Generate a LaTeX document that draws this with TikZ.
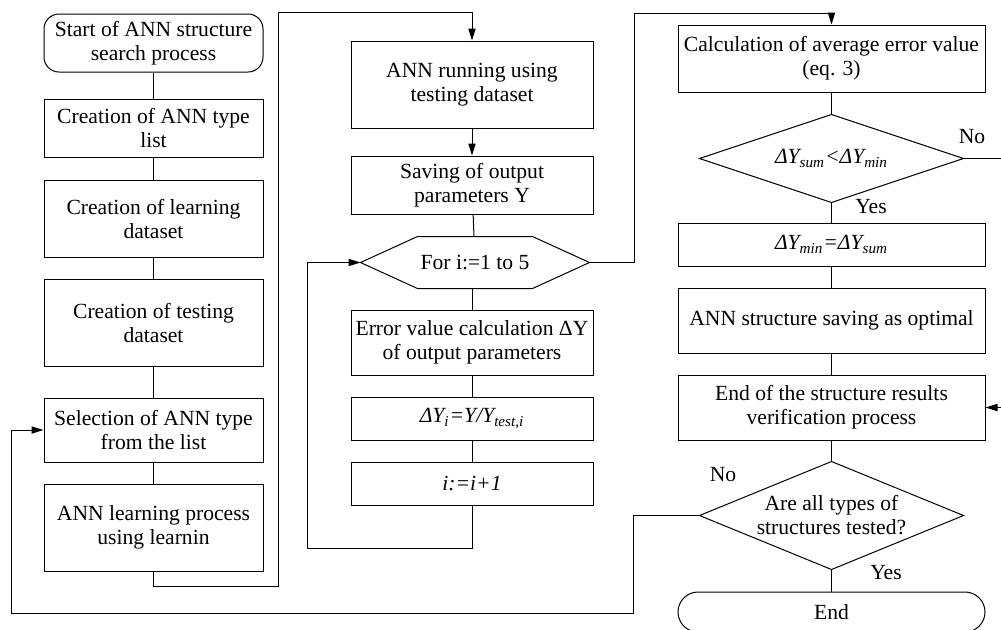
\documentclass[tikz,border=0pt]{standalone}
\usepackage{fontspec}
\setmainfont{Liberation Serif}
\usetikzlibrary{arrows.meta,calc}
\tikzset{
	box/.style={draw, align=center, inner sep=0pt},
	lbox/.style={box, minimum width=109.5pt, minimum height=#1},
	mbox/.style={box, minimum width=121pt, minimum height=#1},
	rbox/.style={box, minimum width=153.5pt, minimum height=#1},
	term/.style={box, rounded corners=#1},
	shell/.style={align=center, inner sep=0pt},
	arr/.style={-{Triangle[length=6pt,width=3.6pt]}}
}

\begin{document}
\begin{tikzpicture}[x=0.5pt, y=-0.5pt, line width=0.5pt, font=\fontsize{10.8}{12}\selectfont]
        \useasboundingbox (0,0) rectangle (1001,629);
        \clip (0,0) rectangle (1001,629);
        % left column
        \node[term=7.5pt, minimum width=109.5pt, minimum height=29pt] (start) at (153.5,43) {Start of ANN structure\\search process};
        \node[lbox=29pt] (type_list) at (153.5,128) {Creation of ANN type\\list};
        \node[lbox=38.5pt] (learn_set) at (153.5,218.5) {Creation of learning\\dataset};
        \node[lbox=43.5pt] (test_set) at (153.5,322.5) {Creation of testing\\dataset};
        \node[lbox=32pt] (select) at (153.5,430) {Selection of ANN type\\from the list};
        \node[lbox=43.5pt] (learn_proc) at (153.5,527.5) {ANN learning process\\using learnin};
        \draw (start) -- (type_list);
        \draw (type_list) -- (learn_set);
        \draw (learn_set) -- (test_set);
        \draw (test_set) -- (select);
        \draw (select) -- (learn_proc);
        % middle column
        \node[mbox=43.5pt] (run) at (472,84.5) {ANN running using\\testing dataset};
        \node[mbox=29pt] (save_y) at (472,185) {Saving of output\\parameters Y};
        \node[shell, minimum width=114pt, minimum height=25.5pt] (loop) at (475,262.5) {For i:=1 to 5};
        \draw (loop.west) -- ($(loop.north west)+(57,0)$) -- ($(loop.north east)+(-57,0)$) -- (loop.east)
            -- ($(loop.south east)+(-57,0)$) -- ($(loop.south west)+(57,0)$) -- cycle;
        \node[mbox=32.5pt] (err_calc) at (472,342.5) {Error value calculation ΔY\\of output parameters};
        \node[mbox=21.5pt] (delta_y) at (472,418.5) {\textit{ΔY\textsubscript{i}=Y/Y\textsubscript{test,i}}};
        \node[mbox=21.5pt] (incr) at (472,483.5) {\textit{i:=i+1}};
        \draw[arr] (run) -- (save_y);
        \draw (save_y) -- (loop);
        \draw (loop.south -| err_calc.north) -- (err_calc);
        \draw (err_calc) -- (delta_y);
        \draw (delta_y) -- (incr);
        % right column
        \node[rbox=33.5pt] (avg) at (831.5,58.5) {Calculation of average error value\\(eq. 3)};
        \node[shell, minimum width=131.5pt, minimum height=43.5pt] (cmp) at (831.5,158.5) {\textit{ΔY\textsubscript{sum}<ΔY\textsubscript{min}}};
        \draw (cmp.west) -- (cmp.north) -- (cmp.east) -- (cmp.south) -- cycle;
        \node[rbox=21.5pt] (set_min) at (831.5,244.5) {\textit{ΔY\textsubscript{min}=ΔY\textsubscript{sum}}};
        \node[rbox=32.5pt] (save_opt) at (831.5,320.5) {ANN structure saving as optimal};
        \node[rbox=32.5pt] (end_ver) at (831.5,407.5) {End of the structure results\\verification process};
        \node[shell, minimum width=131.5pt, minimum height=53.5pt] (all_test) at (831.5,515.5) {Are all types of\\structures tested?};
        \draw (all_test.west) -- (all_test.north) -- (all_test.east) -- (all_test.south) -- cycle;
        \node[term=10pt, minimum width=153.5pt, minimum height=20pt] (finish) at (831.5,612) {End};
        \draw (avg) -- (cmp);
        \draw (cmp) -- (set_min);
        \draw (set_min) -- (save_opt);
        \draw (save_opt) -- (end_ver);
        \draw (end_ver) -- (all_test);
        \draw (all_test) -- (finish);
        \node (no_a) at (972,137) {No};
        \node (yes_a) at (871,207) {Yes};
        \node (no_b) at (723,475) {No};
        \node (yes_b) at (886,573) {Yes};
        % loops
        \coordinate (c_1) at (278,586);
        \coordinate (c_2) at (278,12);
        \coordinate (c_3) at (307,548);
        \coordinate (c_4) at (634,13);
        \coordinate (c_5) at (1015,300);
        \coordinate (c_6) at (633,613);
        \coordinate (c_7) at (11,613);
        \draw[arr] (learn_proc.south) |- (c_1) -- (c_2) -| (run.north);
        \draw[arr] (incr.south) |- (c_3) |- (loop.west);
        \draw[arr] (loop.east) -| (c_4) -| (avg.north);
        \draw[arr] (cmp.east) -| (c_5) |- (end_ver.east);
        \draw[arr] (all_test.west) -| (c_6) -- (c_7) |- (select.west);
\end{tikzpicture}
\end{document}
